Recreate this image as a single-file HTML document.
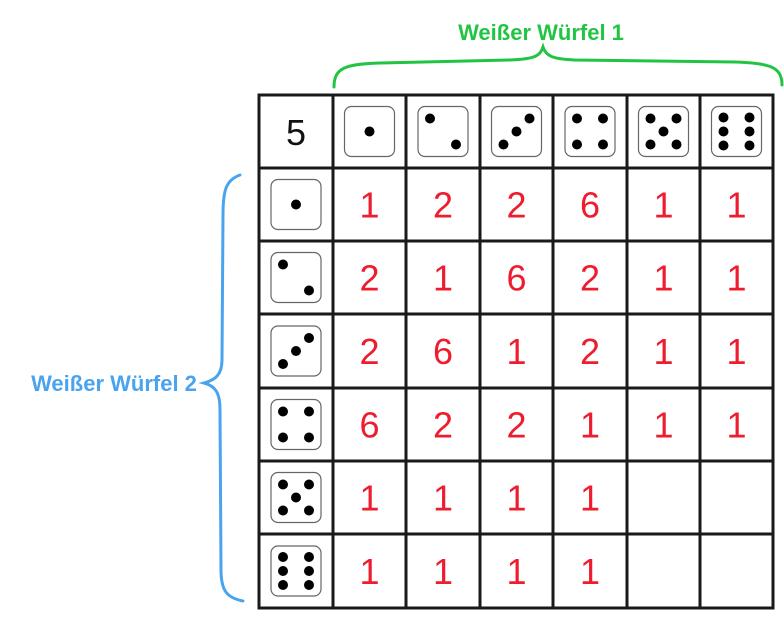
<!DOCTYPE html>
<html><head><meta charset="utf-8"><style>
html,body{margin:0;padding:0;background:#fff;}
svg{display:block;}
</style></head><body>
<svg id="s" width="784" height="620" xmlns="http://www.w3.org/2000/svg">
<path d="M334,87 C334,68 345,64 380,63 L510,60 C535,59 540,56 543,47 C546,56 552,59 575,60 L735,62 C770,63 782,67 782,85" fill="none" stroke="#22c443" stroke-width="3" stroke-linecap="round"/>
<text x="541" y="40" text-anchor="middle" font-family="Liberation Sans, sans-serif" font-size="22" font-weight="bold" fill="#22c443">Weißer Würfel 1</text>
<path d="M240,175 C226,180 223,190 223,215 L222,360 C222,375 215,380 204,383 C215,386 220,392 220,410 L221,570 C221,592 228,598 243,601" fill="none" stroke="#4aa3ee" stroke-width="3" stroke-linecap="round"/>
<text x="114" y="391" text-anchor="middle" font-family="Liberation Sans, sans-serif" font-size="22" font-weight="bold" fill="#4aa3ee">Weißer Würfel 2</text>
<g id="g"></g>
</svg>
<script>
var xs=[259,333,406,480,553,627,700,773], ys=[95,168,241,314,388,461,534,608];
var h='';
function die(x,y,n){
 var s='<rect x="'+x+'" y="'+y+'" width="50" height="50" rx="7" fill="#fff" stroke="#666" stroke-width="1.2"/>';
 var P={1:[[25,25]],2:[[12,12],[38,38]],3:[[12,38],[25,25],[38,12]],4:[[12,12],[38,12],[12,38],[38,38]],5:[[12,12],[38,12],[25,25],[12,38],[38,38]],6:[[12,11],[38,11],[12,25],[38,25],[12,39],[38,39]]};
 P[n].forEach(function(p){s+='<circle cx="'+(x+p[0])+'" cy="'+(y+p[1])+'" r="5" fill="#000"/>';});
 return s;
}
for(var i=1;i<=6;i++){
 h+=die((xs[i]+xs[i+1])/2-25,(ys[0]+ys[1])/2-25,i);
 h+=die((xs[0]+xs[1])/2-25,(ys[i]+ys[i+1])/2-25,i);
}
h+='<text x="'+((xs[0]+xs[1])/2)+'" y="145" text-anchor="middle" font-family="Liberation Sans, sans-serif" font-size="36" fill="#111">5</text>';
var d=[[1,2,2,6,1,1],[2,1,6,2,1,1],[2,6,1,2,1,1],[6,2,2,1,1,1],[1,1,1,1,'',''],[1,1,1,1,'','']];
for(var r=0;r<6;r++)for(var c=0;c<6;c++){
 h+='<text x="'+((xs[c+1]+xs[c+2])/2)+'" y="'+((ys[r+1]+ys[r+2])/2+13)+'" text-anchor="middle" font-family="Liberation Sans, sans-serif" font-size="36" fill="#ee1c2e">'+d[r][c]+'</text>';
}
for(var i=0;i<8;i++){
 h+='<line x1="'+xs[i]+'" y1="93.5" x2="'+xs[i]+'" y2="609.5" stroke="#1a1a1a" stroke-width="3"/>';
 h+='<line x1="257.5" y1="'+ys[i]+'" x2="774.5" y2="'+ys[i]+'" stroke="#1a1a1a" stroke-width="3"/>';
}
document.getElementById('g').innerHTML=h;
</script>
</body></html>
